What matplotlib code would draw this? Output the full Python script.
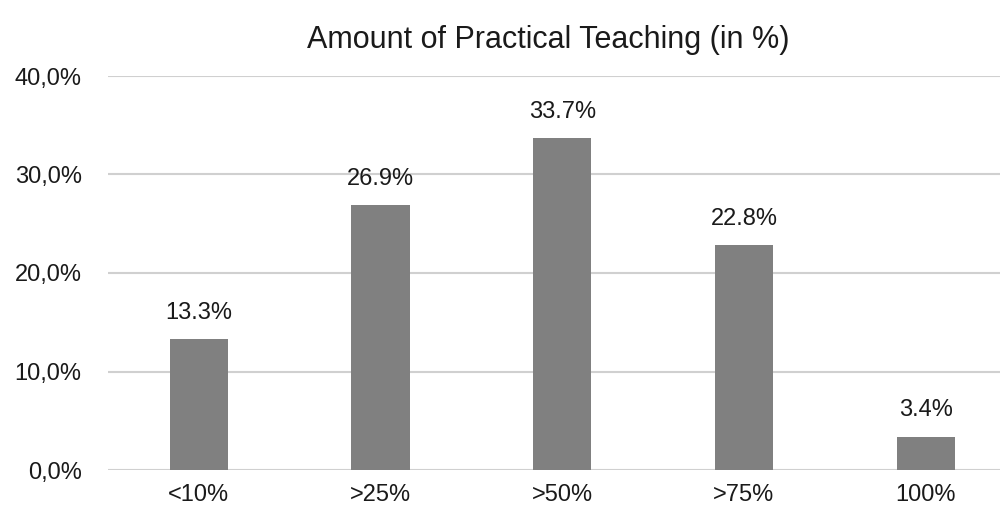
import matplotlib.pyplot as plt
from matplotlib.ticker import FuncFormatter

categories = ['<10%', '>25%', '>50%', '>75%', '100%']
values = [13.3, 26.9, 33.7, 22.8, 3.4]
yticks = [0, 10, 20, 30, 40]

plt.rcParams['font.family'] = ['Liberation Sans', 'DejaVu Sans']

fig = plt.figure(figsize=(10.05, 5.05), dpi=100)
ax = fig.add_axes([108 / 1005, 1 - 470 / 505, 892 / 1005, (470 - 76) / 505])

x = list(range(len(categories)))
bars = ax.bar(x, values, width=0.32, color='#808080', zorder=3)

for xi, v in zip(x, values):
    ax.annotate(f'{v}%', (xi, v), xytext=(0, 11), textcoords='offset points',
                ha='center', va='bottom', fontsize=17, color='#1a1a1a')

ax.set_xlim(-0.5, -0.5 + 892 / 181.7)
ax.set_ylim(0, 40)
ax.set_yticks(yticks)
ax.yaxis.set_major_formatter(FuncFormatter(lambda v, p: f'{v:.1f}%'.replace('.', ',')))
ax.set_xticks(x)
ax.set_xticklabels(categories)
ax.tick_params(axis='both', length=0, labelsize=17, colors='#1a1a1a')
ax.tick_params(axis='y', pad=19)
ax.tick_params(axis='x', pad=10)

ax.grid(axis='y', color='#d0d0d0', linewidth=1.5, zorder=0)
for s in ax.spines.values():
    s.set_visible(False)

fig.text(548 / 1005, 1 - 40 / 505, 'Amount of Practical Teaching (in %)', ha='center', va='center',
         fontsize=22, color='#1a1a1a')

fig.savefig('out.png', dpi=100)
